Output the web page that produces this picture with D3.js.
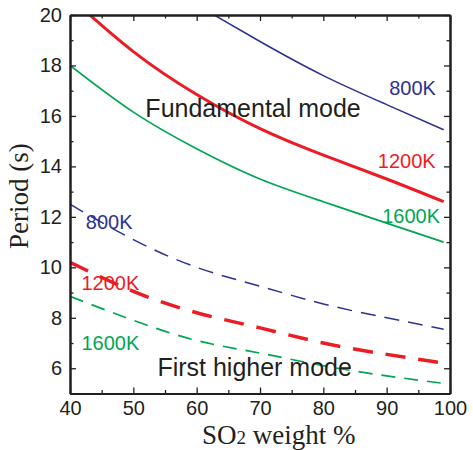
<!DOCTYPE html>
<html>
<head>
<meta charset="utf-8">
<script src="https://cdn.jsdelivr.net/npm/d3@7"></script>
<style>
  body { margin: 0; background: #fff; }
  svg { display: block; }
</style>
</head>
<body>
<div id="graph"></div>
<script>

// SO2 weight % sampled along every curve
var so2Weight = [40, 50, 60, 70, 80, 90, 99];

// Fundamental mode periods (s), solid lines
var fund800K = [null, null, 20.4, 18.95, 17.6, 16.45, 15.45];
var fund1200K = [20.7, 18.55, 16.85, 15.5, 14.45, 13.5, 12.6];
var fund1600K = [18.0, 16.15, 14.7, 13.5, 12.6, 11.75, 11.0];

// First higher mode periods (s), dashed lines
var first800K = [12.5, 11.1, 10.0, 9.25, 8.55, 8.0, 7.55];
var first1200K = [10.2, 9.05, 8.2, 7.6, 7.0, 6.55, 6.2];
var first1600K = [8.85, 7.9, 7.1, 6.6, 6.1, 5.7, 5.4];

// tick values
var xTicks = [40, 50, 60, 70, 80, 90, 100];
var yTicks = [6, 8, 10, 12, 14, 16, 18, 20];
var xMinor = [45, 55, 65, 75, 85, 95];
var yMinor = [5, 7, 9, 11, 13, 15, 17, 19];

// SVG parameters ('top' is taken by window, so plot* names)
var svgWidth = 473;
var svgHeight = 450;
var plotLeft = 70, plotRight = 450, plotTop = 15, plotBottom = 393.5;

var blue = '#2e3192', red = '#ed1c24', green = '#00a651', ink = '#231f20';

var svg = d3.select('#graph')
  .append('svg')
  .attr('width', svgWidth)
  .attr('height', svgHeight);

var x = d3.scaleLinear().domain([40, 100]).range([plotLeft, plotRight]);
var y = d3.scaleLinear().domain([5, 20]).range([plotBottom, plotTop]);

// clip curves to the plot box
svg.append('clipPath').attr('id', 'box')
  .append('rect')
  .attr('x', plotLeft).attr('y', plotTop)
  .attr('width', plotRight - plotLeft).attr('height', plotBottom - plotTop);

var line = d3.line()
  .x(function (d) { return x(d[0]); })
  .y(function (d) { return y(d[1]); })
  .curve(d3.curveNatural);

function pairs(values) {
  return so2Weight.map(function (w, i) { return [w, values[i]]; })
    .filter(function (d) { return d[1] !== null; });
}

var curves = [
  { values: fund800K, color: blue, width: 1.5, dash: null },
  { values: fund1200K, color: red, width: 3, dash: null },
  { values: fund1600K, color: green, width: 1.7, dash: null },
  { values: first800K, color: blue, width: 1.5, dash: '15,9' },
  { values: first1200K, color: red, width: 3.5, dash: '20,13' },
  { values: first1600K, color: green, width: 1.7, dash: '14,9' }
];

svg.append('g').attr('clip-path', 'url(#box)')
  .selectAll('path')
  .data(curves)
  .enter()
  .append('path')
  .attr('d', function (d) { return line(pairs(d.values)); })
  .attr('fill', 'none')
  .attr('stroke', function (d) { return d.color; })
  .attr('stroke-width', function (d) { return d.width; })
  .attr('stroke-dasharray', function (d) { return d.dash; });

// axes, ticks pointing inward on all four sides
svg.append('g')
  .attr('transform', 'translate(0,' + plotBottom + ')')
  .call(d3.axisBottom(x).tickValues(xTicks).tickSizeInner(-6).tickSizeOuter(0).tickPadding(7));
svg.append('g')
  .attr('transform', 'translate(' + plotLeft + ',0)')
  .call(d3.axisLeft(y).tickValues(yTicks).tickSizeInner(-6).tickSizeOuter(0).tickPadding(8));
svg.append('g')
  .attr('transform', 'translate(0,' + plotTop + ')')
  .call(d3.axisTop(x).tickValues(xTicks).tickSizeInner(-6).tickSizeOuter(0).tickFormat(''));
svg.append('g')
  .attr('transform', 'translate(' + plotRight + ',0)')
  .call(d3.axisRight(y).tickValues(yTicks).tickSizeInner(-6).tickSizeOuter(0).tickFormat(''));

// minor ticks
svg.append('g').attr('transform', 'translate(0,' + plotBottom + ')')
  .call(d3.axisBottom(x).tickValues(xMinor).tickSizeInner(-3.5).tickSizeOuter(0).tickFormat(''));
svg.append('g').attr('transform', 'translate(0,' + plotTop + ')')
  .call(d3.axisTop(x).tickValues(xMinor).tickSizeInner(-3.5).tickSizeOuter(0).tickFormat(''));
svg.append('g').attr('transform', 'translate(' + plotLeft + ',0)')
  .call(d3.axisLeft(y).tickValues(yMinor).tickSizeInner(-3.5).tickSizeOuter(0).tickFormat(''));
svg.append('g').attr('transform', 'translate(' + plotRight + ',0)')
  .call(d3.axisRight(y).tickValues(yMinor).tickSizeInner(-3.5).tickSizeOuter(0).tickFormat(''));

svg.selectAll('.domain').attr('stroke', ink).attr('stroke-width', 2);
svg.selectAll('.tick line').attr('stroke', ink).attr('stroke-width', 1.3);
svg.selectAll('.tick text')
  .attr('font-family', '"Liberation Sans", Arial, sans-serif')
  .attr('font-size', 20)
  .attr('fill', ink);

// axis titles
svg.append('text')
  .attr('transform', 'translate(28,249) rotate(-90)')
  .attr('font-family', '"Liberation Serif", "Times New Roman", serif')
  .attr('font-size', 27)
  .attr('fill', ink)
  .text('Period (s)');

var xTitle = svg.append('text')
  .attr('x', 202)
  .attr('y', 444)
  .attr('font-family', '"Liberation Serif", "Times New Roman", serif')
  .attr('font-size', 27)
  .attr('fill', ink);
xTitle.append('tspan').text('SO');
xTitle.append('tspan').attr('font-size', 19).text('2');
xTitle.append('tspan').text(' weight %');

// curve and mode labels, positioned in data units
var labels = [
  { text: '800K', at: [90.4, 16.83], color: blue, size: 20 },
  { text: '1200K', at: [88.6, 13.95], color: red, size: 20 },
  { text: '1600K', at: [89.3, 11.77], color: green, size: 20 },
  { text: '800K', at: [42.5, 11.53], color: blue, size: 20 },
  { text: '1200K', at: [41.8, 9.12], color: red, size: 20 },
  { text: '1600K', at: [41.8, 6.74], color: green, size: 20 },
  { text: 'Fundamental mode', at: [51.9, 15.96], color: ink, size: 25 },
  { text: 'First higher mode', at: [53.8, 5.71], color: ink, size: 25 }
];

svg.append('g').selectAll('text')
  .data(labels)
  .enter()
  .append('text')
  .attr('x', function (d) { return x(d.at[0]); })
  .attr('y', function (d) { return y(d.at[1]); })
  .attr('fill', function (d) { return d.color; })
  .attr('font-size', function (d) { return d.size; })
  .attr('font-family', '"Liberation Sans", Arial, sans-serif')
  .text(function (d) { return d.text; });

</script>
</body>
</html>
